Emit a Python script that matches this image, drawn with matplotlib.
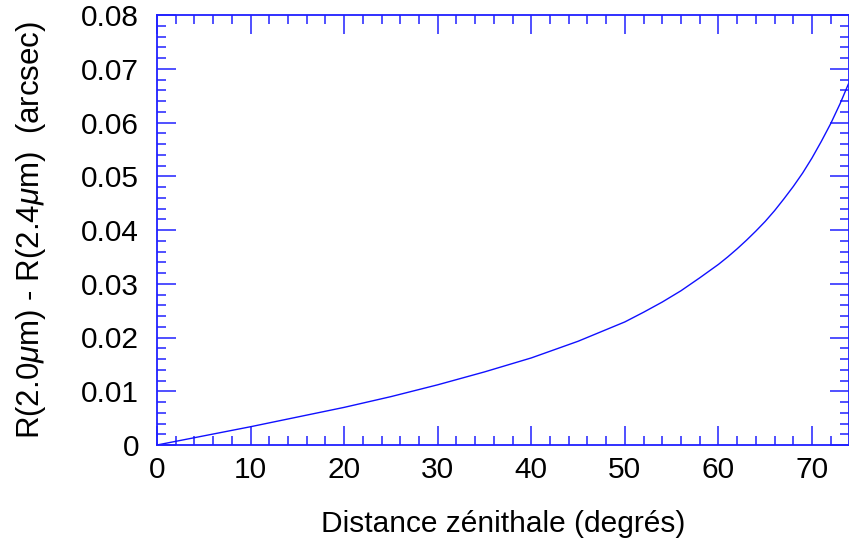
import matplotlib
matplotlib.use("Agg")
from matplotlib import pyplot as plt
from matplotlib.ticker import MultipleLocator

# values
zenith_deg = [0, 5, 10, 15, 20, 25, 30, 35, 40, 45, 50, 52, 54, 56, 58, 60, 61, 62, 63, 64, 65, 66,
              67, 68, 69, 70, 71, 72, 73, 73.9]
refr_diff = [0.0, 0.0017, 0.0034, 0.0052, 0.0070, 0.0090, 0.0112, 0.0136, 0.0162, 0.0193, 0.0229,
             0.0247, 0.0266, 0.0287, 0.0311, 0.0336, 0.0350, 0.0365, 0.0381, 0.0398, 0.0416, 0.0436,
             0.0458, 0.0481, 0.0506, 0.0534, 0.0565, 0.0598, 0.0635, 0.0672]

x_ticks = [0, 10, 20, 30, 40, 50, 60, 70]
y_ticks = [0, 0.01, 0.02, 0.03, 0.04, 0.05, 0.06, 0.07, 0.08]
y_tick_labels = ["0", "0.01", "0.02", "0.03", "0.04", "0.05", "0.06", "0.07", "0.08"]

plt.rcParams['font.family'] = ['Liberation Sans', 'DejaVu Sans']
plt.rcParams['mathtext.fontset'] = 'custom'
plt.rcParams['mathtext.it'] = 'Liberation Sans:italic'
plt.rcParams['mathtext.rm'] = 'Liberation Sans'

axis_blue = "#2020ff"

fig = plt.figure(figsize=(8.49, 5.46), dpi=100)
ax = fig.add_axes([157 / 849, 1 - 445 / 546, (848.5 - 157) / 849, (445 - 15) / 546])

ax.plot(zenith_deg, refr_diff, color="#1010ff", linewidth=1.0)

ax.set_xlim(0, 73.9)
ax.set_ylim(0, 0.08)
ax.set_xticks(x_ticks)
ax.set_yticks(y_ticks)
ax.set_yticklabels(y_tick_labels)
ax.xaxis.set_minor_locator(MultipleLocator(2))
ax.yaxis.set_minor_locator(MultipleLocator(0.002))

for side in ax.spines.values():
    side.set_color(axis_blue)
    side.set_linewidth(1.3)

ax.tick_params(which="both", direction="in", top=True, right=True, color=axis_blue,
               width=1.1, labelsize=21.5, labelcolor="black")
ax.tick_params(axis="x", which="major", length=13.5, pad=8)
ax.tick_params(axis="y", which="major", length=13.5, pad=13)
ax.tick_params(which="minor", length=6.5)

ax.set_xlabel("Distance zénithale (degrés)", fontsize=21.5, labelpad=19)
ax.set_ylabel(r"R(2.0$\mu$m) - R(2.4$\mu$m)  (arcsec)", fontsize=22.5, labelpad=24)

fig.savefig("out.png", dpi=100)
